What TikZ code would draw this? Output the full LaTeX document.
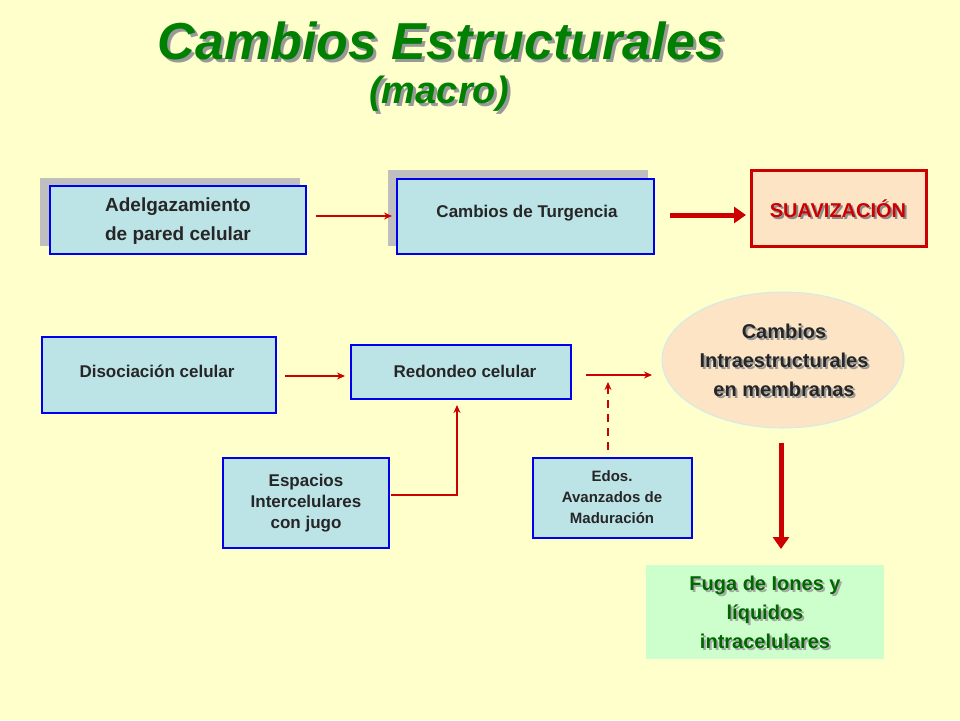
\documentclass[tikz,border=0pt]{standalone}
\usepackage{fontspec}
\setmainfont{Liberation Sans}
\definecolor{bg}{HTML}{FFFFCC}
\definecolor{bx}{HTML}{BCE3E6}
\definecolor{bl}{HTML}{0000EE}
\definecolor{rd}{HTML}{CC0000}
\definecolor{gr}{HTML}{008000}
\definecolor{peach}{HTML}{FCE4C4}
\definecolor{lg}{HTML}{CCFFCC}
\definecolor{dg}{HTML}{006600}
\tikzset{
 bbox/.style={draw=bl,line width=2pt,fill=bx},
 sbox/.style={fill=black!25},
 lbl/.style={font=\bfseries\fontsize{17}{21}\selectfont,align=center,text=black!85},
 big/.style={font=\bfseries\fontsize{20}{29}\selectfont,align=center},
 arr/.style={draw=rd,line width=1.5pt,-{Stealth[length=8pt,width=7pt]}},
 tarr/.style={draw=rd,line width=5pt,-{Triangle[length=12pt,width=16pt]}},
}
\usetikzlibrary{arrows.meta,shapes.geometric}
\begin{document}
\begin{tikzpicture}[x=1pt,y=-1pt]
\useasboundingbox[fill=bg] (0,0) rectangle (960,720);
% title
\node[text=black!40,font=\bfseries\itshape\fontsize{52}{56}\selectfont] at (444,44) {Cambios Estructurales};
\node[text=gr,font=\bfseries\itshape\fontsize{52}{56}\selectfont] (t1) at (441,41) {Cambios Estructurales};
\node[text=black!40,font=\bfseries\itshape\fontsize{38}{42}\selectfont] at (442,97) {(macro)};
\node[text=gr,font=\bfseries\itshape\fontsize{38}{42}\selectfont] (t2) at (439,94) {(macro)};
% top row
\fill[sbox] (40,178) rectangle (300,246);
\draw[bbox] (50,186) rectangle (306,254);
\node[lbl,font=\bfseries\fontsize{19}{29}\selectfont] (a) at (178,221) {Adelgazamiento\\ de pared celular};
\coordinate (aE) at (316,216);
\fill[sbox] (388,170) rectangle (648,246);
\draw[bbox] (397,179) rectangle (654,254);
\node[lbl] (b) at (527,213) {Cambios de Turgencia};
\coordinate (bW) at (392,216);
\draw[arr] (aE) -- (bW);
\draw[draw=rd,line width=3pt,fill=peach] (751,170) rectangle (926,246);
\node[text=black!45,font=\bfseries\fontsize{20}{24}\selectfont] at (840,211) {SUAVIZACIÓN};
\node[text=rd,font=\bfseries\fontsize{20}{24}\selectfont] (s) at (838,209) {SUAVIZACIÓN};
\coordinate (bE) at (670,215);
\coordinate (sW) at (746,215);
\draw[tarr] (bE) -- (sW);
% middle row
\draw[bbox] (42,337) rectangle (276,413);
\node[lbl] (d) at (157,371) {Disociación celular};
\draw[bbox] (351,345) rectangle (571,399);
\node[lbl] (r) at (465,371) {Redondeo celular};
\coordinate (dE) at (285,376);
\coordinate (rW) at (345,376);
\draw[arr] (dE) -- (rW);
\node[ellipse,draw=bx!70!white,line width=1pt,fill=peach,minimum width=242pt,minimum height=136pt] (e) at (783,360) {};
\node[big,text=black!40] at (786,362) {Cambios\\Intraestructurales\\ en membranas};
\node[big,text=black!85] (et) at (784,360) {Cambios\\Intraestructurales\\ en membranas};
\coordinate (rE) at (586,375);
\coordinate (eW) at (652,375);
\draw[arr,line width=2.5pt] (rE) -- (eW);
% bottom
\fill[lg] (646,565) rectangle (884,659);
\node[big,text=black!35] at (767,614) {Fuga de Iones y\\líquidos\\intracelulares};
\node[big,text=dg] (f) at (765,612) {Fuga de Iones y\\líquidos\\intracelulares};
\coordinate (eS) at (781,443);
\coordinate (fN) at (781,549);
\draw[tarr] (eS) -- (fN);
\draw[bbox] (223,458) rectangle (389,548);
\node[lbl] (sp) at (306,503) {Espacios\\Intercelulares\\con jugo};
\coordinate (spE) at (391,495);
\coordinate (rS) at (457,405);
\draw[arr] (spE) -| (rS);
\draw[bbox] (533,458) rectangle (692,538);
\node[lbl,font=\bfseries\fontsize{15}{21}\selectfont] (ed) at (612,497) {Edos.\\Avanzados de\\Maduración};
\coordinate (edN) at (608,450);
\coordinate (up) at (608,382);
\draw[arr,dashed,dash pattern=on 8pt off 6pt] (edN) -- (up);
\end{tikzpicture}
\end{document}
